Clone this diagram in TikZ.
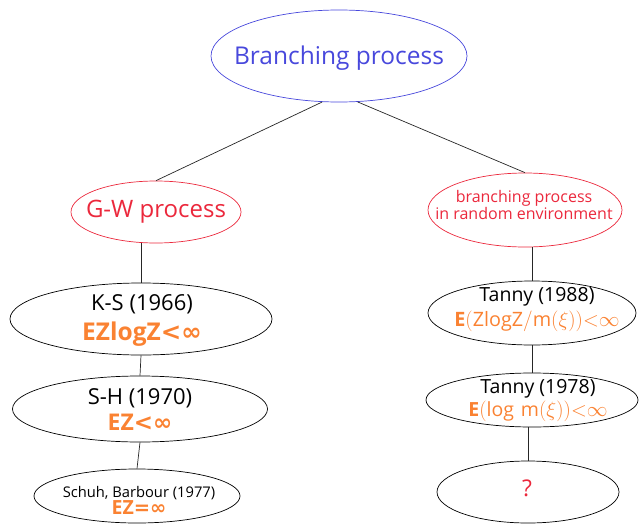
\documentclass[tikz,border=0pt]{standalone}
\usepackage{fontspec}
\setmainfont{Open Sans}
\newfontfamily\symf{DejaVu Sans}
\usetikzlibrary{shapes.geometric}
\definecolor{cblue}{RGB}{72,72,220}
\definecolor{cred}{RGB}{235,40,60}
\definecolor{corange}{RGB}{250,130,50}
\newcommand{\fs}[2]{\fontsize{#1}{#2}\selectfont}
\begin{document}
\begin{tikzpicture}[x=1pt,y=-1pt,
  ell/.style={ellipse, draw, inner sep=0pt, line width=0.7pt},
  txt/.style={inner sep=0pt, align=center},
  conn/.style={draw=black!85, line width=0.7pt}]
\useasboundingbox (0,0) rectangle (639,524);
% ellipses
\node[ell, draw=cblue, minimum width=256pt, minimum height=92pt] (root) at (339,56) {};
\node[ell, draw=cred, minimum width=170pt, minimum height=62pt] (gw) at (156,212) {};
\node[ell, draw=cred, minimum width=194pt, minimum height=74pt] (rbp) at (525,210) {};
\node[ell, minimum width=262pt, minimum height=72pt] (ks) at (141,319) {};
\node[ell, minimum width=255pt, minimum height=66pt] (sh) at (140,409) {};
\node[ell, minimum width=206pt, minimum height=54pt] (sb) at (137,496) {};
\node[ell, minimum width=208pt, minimum height=64pt] (t88) at (532,313) {};
\node[ell, minimum width=212pt, minimum height=54pt] (t78) at (532,400) {};
\node[ell, minimum width=182pt, minimum height=62pt] (q) at (528,492) {};
% texts
\node[txt, text=cblue, font=\fs{24.5}{28}] (rootT) at (339,58) {Branching process};
\node[txt, text=cred, font=\fs{24}{26}] (gwT) at (156,212) {G-W process};
\node[txt, text=cred, font=\fs{16}{17.5}] (rbpT) at (524,205) {branching process\\in random environment};
\node[txt, font=\fs{22}{30}] (ksT) at (142,320) {K-S (1966)\\{\fs{24.5}{30}\color{corange}\bfseries EZlogZ{\symf <∞}}};
\node[txt, font=\fs{22}{26}] (shT) at (140,410) {S-H (1970)\\{\fs{23}{26}\color{corange}\bfseries EZ{\symf <∞}}};
\node[txt, font=\fs{14.7}{17}] (sbT) at (139,500) {Schuh, Barbour (1977)\\{\fs{19.5}{17}\color{corange}\bfseries EZ{\symf =∞}}};
\node[txt, font=\fs{19.5}{25}] (t88T) at (537,310) {Tanny (1988)\\{\fs{19.8}{25}\color{corange}$\mathbf{E}(\mathrm{ZlogZ}/\mathrm{m}(\xi))\mathord{<}\infty$}};
\node[txt, font=\fs{19.5}{23}] (t78T) at (538,401) {Tanny (1978)\\{\color{corange}$\mathbf{E}(\log\,\mathrm{m}(\xi))\mathord{<}\infty$}};
\node[txt, text=cred, font=\fs{23}{26}] (qT) at (527,488) {?};
% connectors
\draw[conn] (root.250) -- (gw.north);
\draw[conn] (root.292) -- (rbp.north);
\draw[conn] (gw.south -| ks.north) -- (ks.north);
\draw[conn] (ks.south) -- (sh.north);
\draw[conn] (sh.south) -- (sb.north);
\draw[conn] (rbp.south -| t88.north) -- (t88.north);
\draw[conn] (t88.south) -- (t78.north);
\draw[conn] (t78.south -| q.north) -- (q.north);
\end{tikzpicture}
\end{document}
